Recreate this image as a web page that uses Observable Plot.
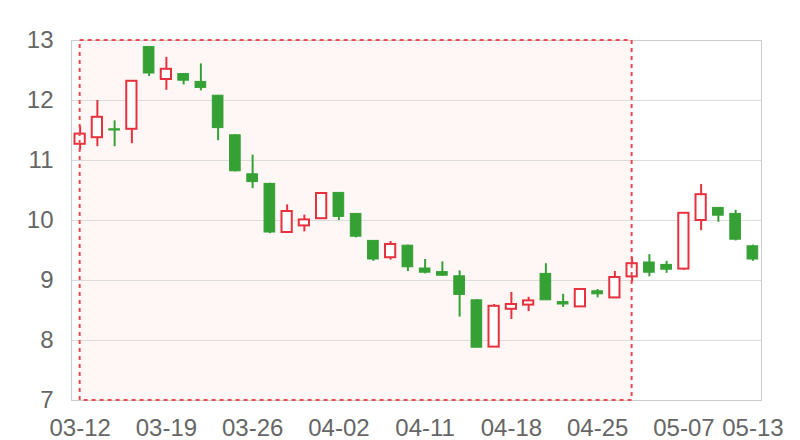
<!DOCTYPE html>
<html>
<head>
<meta charset="utf-8">
<script src="https://cdn.jsdelivr.net/npm/d3@7"></script>
<script src="https://cdn.jsdelivr.net/npm/@observablehq/plot@0.6"></script>
<style>
  html, body { margin: 0; padding: 0; background: #fff; }
  #chart { width: 800px; height: 440px; }
</style>
</head>
<body>
<div id="chart"></div>
<script>
const dates = ["03-12","03-13","03-14","03-15","03-18","03-19","03-20","03-21","03-22","03-25",
  "03-26","03-27","03-28","03-29","04-01","04-02","04-03","04-08","04-09","04-10",
  "04-11","04-12","04-15","04-16","04-17","04-18","04-19","04-22","04-23","04-24",
  "04-25","04-26","04-29","04-30","05-06","05-07","05-08","05-09","05-10","05-13"];
const open  = [11.27,11.38,11.52,11.52,12.89,12.35,12.44,12.31,12.08,11.42,
  10.77,10.61,9.80,9.91,10.03,10.46,10.11,9.66,9.38,9.58,
  9.20,9.14,9.07,8.67,7.89,8.52,8.59,9.11,8.64,8.56,
  8.82,8.71,9.06,9.30,9.26,9.19,10.00,10.21,10.11,9.57];
const close = [11.44,11.72,11.50,12.32,12.45,12.52,12.33,12.21,11.54,10.82,
  10.64,9.80,10.15,10.01,10.45,10.06,9.73,9.35,9.60,9.22,
  9.13,9.08,8.76,7.88,8.57,8.60,8.66,8.67,8.60,8.85,
  8.77,9.05,9.28,9.13,9.18,10.12,10.43,10.08,9.68,9.35];
const high  = [11.57,12.00,11.66,12.32,12.89,12.72,12.44,12.61,12.08,11.43,
  11.09,10.62,10.26,10.09,10.46,10.46,10.11,9.66,9.65,9.59,
  9.35,9.31,9.16,8.68,8.60,8.80,8.72,9.28,8.77,8.85,
  8.85,9.15,9.38,9.43,9.32,10.12,10.60,10.21,10.17,9.59];
const low   = [11.17,11.23,11.23,11.28,12.40,12.17,12.26,12.16,11.33,10.81,
  10.53,9.78,9.80,9.81,10.03,10.00,9.71,9.32,9.34,9.15,
  9.11,9.07,8.39,7.88,7.89,8.35,8.48,8.67,8.55,8.56,
  8.71,8.71,8.97,9.06,9.12,9.17,9.83,9.97,9.66,9.32];
const tickLabels = ["03-12","03-19","03-26","04-02","04-11","04-18","04-25","05-07","05-13"];
const yTicks = [7,8,9,10,11,12,13];
const markAreaStart = "03-12";
const markAreaEnd = "04-29";

const RED = "#e5323e";
const GREEN = "#35a135";

const candles = dates.map((d, i) => ({
  i, date: d, open: open[i], close: close[i], high: high[i], low: low[i],
  up: close[i] >= open[i]
}));
const ups = candles.filter(d => d.up);
const downs = candles.filter(d => !d.up);
const tickIdx = tickLabels.map(t => dates.indexOf(t));
const area = [{x1: dates.indexOf(markAreaStart), x2: dates.indexOf(markAreaEnd),
  y1: yTicks[0], y2: yTicks[yTicks.length - 1]}];

const plot = Plot.plot({
  width: 800,
  height: 440,
  marginLeft: 71,
  marginRight: 39,
  marginTop: 40,
  marginBottom: 40,
  style: {fontFamily: "'Liberation Sans', Arial, sans-serif", fontSize: "24px", color: "#666", background: "#fff"},
  x: {type: "linear", domain: [-0.5, dates.length - 0.5]},
  y: {domain: [yTicks[0], yTicks[yTicks.length - 1]]},
  marks: [
    Plot.rect(area, {x1: "x1", x2: "x2", y1: "y1", y2: "y2", fill: "#fff6f6"}),
    Plot.gridY(yTicks, {stroke: "#dcdcdc", strokeOpacity: 1, strokeWidth: 1}),
    Plot.frame({stroke: "#cccccc", strokeWidth: 1}),
    Plot.axisY(yTicks, {tickSize: 0, tickPadding: 18, label: null, fill: "#666",
      tickFormat: d => String(d)}),
    Plot.axisX(tickIdx, {tickSize: 0, tickPadding: 18, label: null, fill: "#666",
      tickFormat: i => dates[i]}),
    // wicks
    Plot.ruleX(candles, {x: "i", y1: "low", y2: "high", stroke: d => d.up ? RED : GREEN, strokeWidth: 2}),
    // down bodies (filled green)
    Plot.rect(downs, {x1: d => d.i - 0.5, x2: d => d.i + 0.5, y1: "open", y2: "close",
      fill: GREEN, stroke: GREEN, strokeWidth: 1, insetLeft: 3.3, insetRight: 3.3}),
    // up bodies (hollow red)
    Plot.rect(ups, {x1: d => d.i - 0.5, x2: d => d.i + 0.5, y1: "open", y2: "close",
      fill: "#fff", stroke: RED, strokeWidth: 2, insetLeft: 3.5, insetRight: 3.5}),
    // mark area dashed border
    Plot.rect(area, {x1: "x1", x2: "x2", y1: "y1", y2: "y2", fill: "none",
      stroke: "#ec4a50", strokeWidth: 2, strokeDasharray: "4,4"})
  ]
});
document.getElementById("chart").appendChild(plot);
</script>
</body>
</html>
